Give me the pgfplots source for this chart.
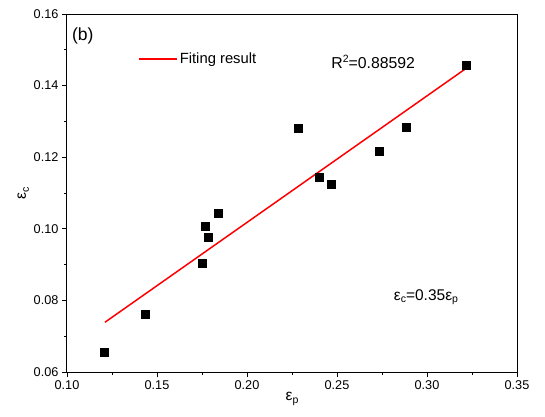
\documentclass[border=0pt]{standalone}
\usepackage{fontspec}
\setmainfont{Liberation Sans}
\usepackage{pgfplots}
\pgfplotsset{compat=1.18}
\definecolor{FitRed}{HTML}{FF0000}
\newcommand{\sub}[1]{\raisebox{-0.35ex}{\fontsize{10.5}{11}\selectfont #1}}

\begin{document}
\begin{tikzpicture}
\begin{axis}[
  scale only axis,width=450pt,height=358pt,
  xmin=0.10,xmax=0.35,ymin=0.06,ymax=0.16,
  xtick={0.10,0.15,0.20,0.25,0.30,0.35},
  ytick={0.06,0.08,0.10,0.12,0.14,0.16},
  minor x tick num=1,minor y tick num=1,
  xtick pos=bottom,ytick pos=left,tick align=outside,
  major tick length=5pt,minor tick length=3pt,
  tick style={black,line width=0.8pt},
  axis line style={line width=1pt},
  /pgf/number format/.cd,fixed,fixed zerofill,precision=2,assume math mode=true,
  /pgfplots/.cd,
  tick label style={font=\fontsize{12.7}{14}\selectfont},
  xlabel={ε\sub{p}},ylabel={ε\sub{c}},
  label style={font=\fontsize{15.5}{17}\selectfont},
  xlabel style={yshift=4pt},
  ylabel style={yshift=-2pt},
  legend style={at={(rel axis cs:0.158,0.874)},anchor=west,draw=none,fill=none,
    inner sep=0pt,font=\fontsize{14.8}{16}\selectfont},
  legend image code/.code={\draw[#1] (0pt,0pt) -- (38pt,0pt);},
  clip=false
]
\addplot[only marks,mark=square*,mark size=4pt,black,forget plot] coordinates {
  (0.1206,0.0656)(0.1433,0.0762)(0.1750,0.0905)(0.1767,0.1008)
  (0.1783,0.0977)(0.1839,0.1044)(0.2283,0.1282)(0.2400,0.1145)
  (0.2467,0.1125)(0.2733,0.1217)(0.2883,0.1284)(0.3217,0.1458)};
\addplot[FitRed,line width=1.5pt] coordinates {(0.1211,0.0739)(0.3217,0.1448)};
\addlegendentry{Fiting result}
\node[anchor=north west,inner sep=0pt,font=\fontsize{17.5}{19}\selectfont]
  at (rel axis cs:0.011,0.962) {(b)};
\node[anchor=west,inner sep=0pt,font=\fontsize{15.8}{17}\selectfont]
  at (rel axis cs:0.587,0.866) {R\raisebox{0.75ex}{\fontsize{10.5}{11}\selectfont 2}=0.88592};
\node[anchor=west,inner sep=0pt,font=\fontsize{15.5}{17}\selectfont]
  at (rel axis cs:0.726,0.209) {ε\sub{c}=0.35ε\sub{p}};
\end{axis}
\path (current axis.south west) ++(-67pt,-44pt) rectangle ++(545pt,416pt);
\end{tikzpicture}
\end{document}
